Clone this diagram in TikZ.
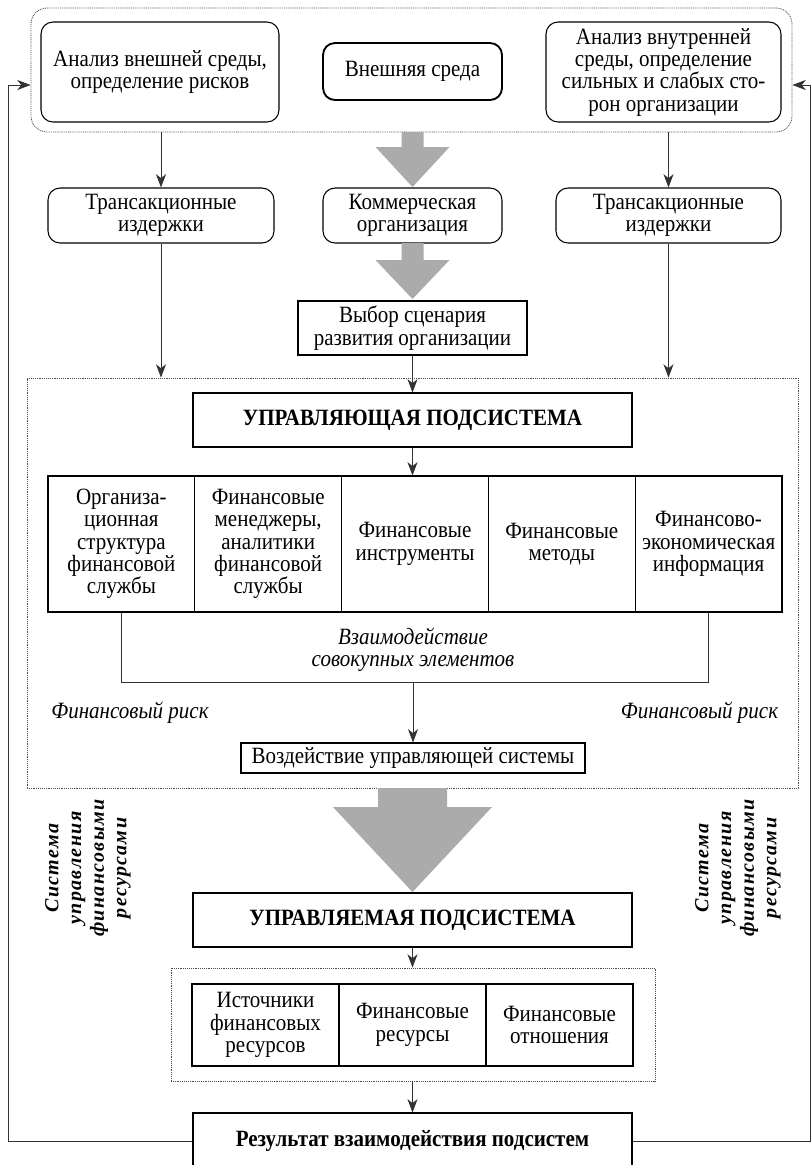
\documentclass[tikz,border=0pt]{standalone}
\usepackage{fontspec}
\setmainfont{Liberation Serif}[FakeStretch=0.9]
\newfontfamily\spfont[LetterSpace=7]{Liberation Serif}
\usetikzlibrary{arrows.meta}
\begin{document}
\begin{tikzpicture}[x=0.75pt,y=-0.75pt,
 every node/.style={font=\fontsize{17.5}{16.75}\selectfont, align=center, inner sep=0pt},
 rbox/.style={draw, line width=0.8pt, rounded corners=9pt},
 sbox/.style={draw, line width=0.8pt},
 cell/.style={draw, line width=0.8pt, minimum width=110.1pt, minimum height=102pt},
 cellb/.style={draw, line width=0.8pt, minimum width=110.25pt, minimum height=61.5pt},
 dotbox/.style={draw=black!70, line width=0.6pt, dash pattern=on 0.7pt off 0.7pt},
 arr/.style={draw=black!80, line width=0.6pt, -{Stealth[length=10pt,width=7.5pt,inset=3pt]}},
 ln/.style={draw=black!80, line width=0.6pt},
 bigarrow/.style={fill=black!33, draw=none},
 side/.style={font=\spfont\bfseries\itshape\fontsize{15}{17}\selectfont, rotate=90},
 bold/.style={font=\bfseries\fontsize{17.5}{16.75}\selectfont},
 ital/.style={font=\itshape\fontsize{17.5}{16.75}\selectfont},
]
\clip (0,0) rectangle (811,1165);
\fill[white] (0,0) rectangle (811,1165);

% top block
\node[dotbox, rounded corners=12pt, minimum width=570.75pt, minimum height=93pt] (top) at (411.5,70) {};
\node[rbox, minimum width=178.5pt, minimum height=75pt] (l1) at (160,72) {Анализ внешней среды,\\определение рисков};
\node[rbox, line width=1.4pt, minimum width=134.25pt, minimum height=42.75pt] (c1) at (412.5,71.5) {Внешняя среда};
\node[rbox, minimum width=176.25pt, minimum height=75pt] (r1) at (663.5,72) {Анализ внутренней\\среды, определение\\сильных и слабых сто-\\рон организации};

% second row
\node[rbox, minimum width=169.5pt, minimum height=41.25pt] (tl) at (161,215.5) {Трансакционные\\издержки};
\node[rbox, minimum width=134.25pt, minimum height=41.25pt] (tc) at (412.5,215.5) {Коммерческая\\организация};
\node[rbox, minimum width=168.75pt, minimum height=41.25pt] (tr) at (668.5,215.5) {Трансакционные\\издержки};

\node[sbox, minimum width=171.75pt, minimum height=40.5pt] (vyb) at (412.5,328) {Выбор сценария\\развития организации};

% gray arrows
\fill[bigarrow] (401.5,132) -- (423.5,132) -- (423.5,147) -- (449.5,147) -- (412.5,187) -- (375.5,147) -- (401.5,147) -- cycle;
\fill[bigarrow] (401.5,243) -- (423.5,243) -- (423.5,260) -- (449.5,260) -- (412.5,299) -- (375.5,260) -- (401.5,260) -- cycle;

% big dotted block
\node[dotbox, minimum width=578.25pt, minimum height=307.5pt] (big) at (412.5,583) {};
\node[sbox, bold, minimum width=329.25pt, minimum height=40.5pt] (upr1) at (412.5,420) {УПРАВЛЯЮЩАЯ ПОДСИСТЕМА};

\node[cell] (t1) at (121.4,544) {Организа-\\ционная\\структура\\финансовой\\службы};
\node[cell] (t2) at (268.2,544) {Финансовые\\менеджеры,\\аналитики\\финансовой\\службы};
\node[cell] (t3) at (415,544) {Финансовые\\инструменты};
\node[cell] (t4) at (561.8,544) {Финансовые\\методы};
\node[cell] (t5) at (708.6,544) {Финансово-\\экономическая\\информация};

\coordinate (bl) at (121.4,682);
\coordinate (br) at (708.6,682);
\coordinate (bm) at (413,682);
\draw[ln] (t1.south) -- (bl) -- (br) -- (t5.south);
\node[ital] (vz) at (413,650) {Взаимодействие\\совокупных элементов};
\node[ital] (riskl) at (130,713) {Финансовый риск};
\node[ital] (riskr) at (699.5,713) {Финансовый риск};
\node[sbox, minimum width=258pt, minimum height=22.5pt] (vozd) at (413,758) {Воздействие управляющей системы};

% big gray arrow
\fill[bigarrow] (378,788) -- (447,788) -- (447,807) -- (492,807) -- (412.5,892) -- (333,807) -- (378,807) -- cycle;

% side labels
\node[side] (sl) at (88,868) {Система\\управления\\финансовыми\\ресурсами};
\node[side] (sr) at (738,868) {Система\\управления\\финансовыми\\ресурсами};

% lower part
\node[sbox, bold, minimum width=329.25pt, minimum height=40.5pt] (upr2) at (412.5,920) {УПРАВЛЯЕМАЯ ПОДСИСТЕМА};
\node[dotbox, minimum width=363pt, minimum height=84.75pt] (small) at (413,1024.5) {};
\node[cellb] (s1) at (265.5,1025) {Источники\\финансовых\\ресурсов};
\node[cellb] (s2) at (412.5,1025) {Финансовые\\ресурсы};
\node[cellb] (s3) at (559.5,1025) {Финансовые\\отношения};
\node[sbox, bold, minimum width=329.25pt, minimum height=42pt] (res) at (412.5,1141) {Результат взаимодействия подсистем};

% connectors
\draw[arr] (top.south -| tl.north) -- (tl.north);
\draw[arr] (top.south -| tr.north) -- (tr.north);
\draw[arr] (tl.south) -- (tl.south |- big.north);
\draw[arr] (tr.south) -- (tr.south |- big.north);
\draw[arr] (vyb.south) -- (upr1.north);
\draw[arr] (upr1.south) -- (upr1.south |- t3.north);
\draw[arr] (bm) -- (vozd.north);
\draw[arr] (upr2.south) -- (small.north -| upr2.south);
\draw[arr] (small.south -| res.north) -- (res.north);

\coordinate (fl) at (8,85);
\coordinate (fr) at (810,85);
\draw[arr] (res.west) -| (fl) -- (fl -| top.west);
\draw[arr] (res.east) -| (fr) -- (fr -| top.east);
\end{tikzpicture}
\end{document}
